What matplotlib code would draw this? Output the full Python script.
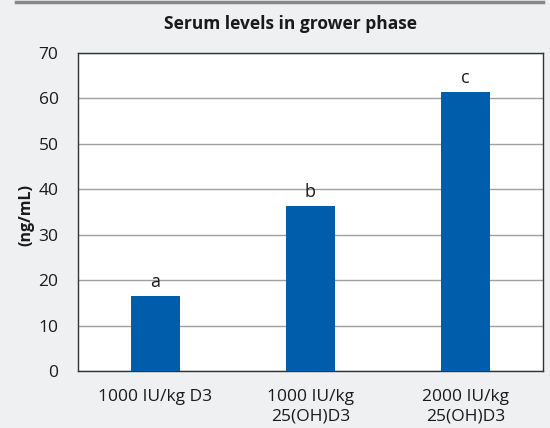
import matplotlib.pyplot as plt
from matplotlib.lines import Line2D

categories = ["1000 IU/kg D3", "1000 IU/kg\n25(OH)D3", "2000 IU/kg\n25(OH)D3"]
values = [16.5, 36.3, 61.4]
letters = ["a", "b", "c"]
yticks = [0, 10, 20, 30, 40, 50, 60, 70]

plt.rcParams['font.family'] = ['Open Sans', 'DejaVu Sans']

bg = '#eff0f2'
blue = '#005dab'

fig = plt.figure(figsize=(5.5, 4.28), dpi=100, facecolor=bg)
ax = fig.add_axes([78 / 550, 1 - 371 / 428, 465 / 550, 318 / 428])
ax.set_facecolor('white')

x = range(len(categories))
ax.bar(x, values, width=0.32, color=blue, zorder=3)
for i, (v, t) in enumerate(zip(values, letters)):
    ax.text(i, v + 1.2, t, ha='center', va='bottom', fontsize=13, color='#1a1a1a')

ax.set_xlim(-0.5, 2.5)
ax.set_ylim(0, 70)
ax.set_yticks(yticks)
ax.set_xticks(list(x))
ax.set_xticklabels(categories, fontsize=12.5, color='#1a1a1a', linespacing=1.25)
ax.tick_params(axis='y', labelsize=12.5, colors='#1a1a1a', length=0, pad=14)
ax.tick_params(axis='x', length=0, pad=13)
ax.yaxis.grid(True, color='#a0a0a0', linewidth=1, zorder=0)
for s in ax.spines.values():
    s.set_color('#333333')
    s.set_linewidth(1)

ax.set_ylabel("(ng/mL)", fontsize=11.5, fontweight='bold', color='#1a1a1a')
ax.yaxis.set_label_coords(-0.094, 0.49)
fig.text(291 / 550, 1 - 24 / 428, "Serum levels in grower phase", ha='center', va='center',
         fontsize=12.5, fontweight='bold', color='#1a1a1a')
fig.add_artist(Line2D([16 / 550, 543 / 550], [1 - 2 / 428, 1 - 2 / 428],
                      color='#888888', linewidth=2.5, transform=fig.transFigure))

fig.savefig("out.png", dpi=100, facecolor=bg)
